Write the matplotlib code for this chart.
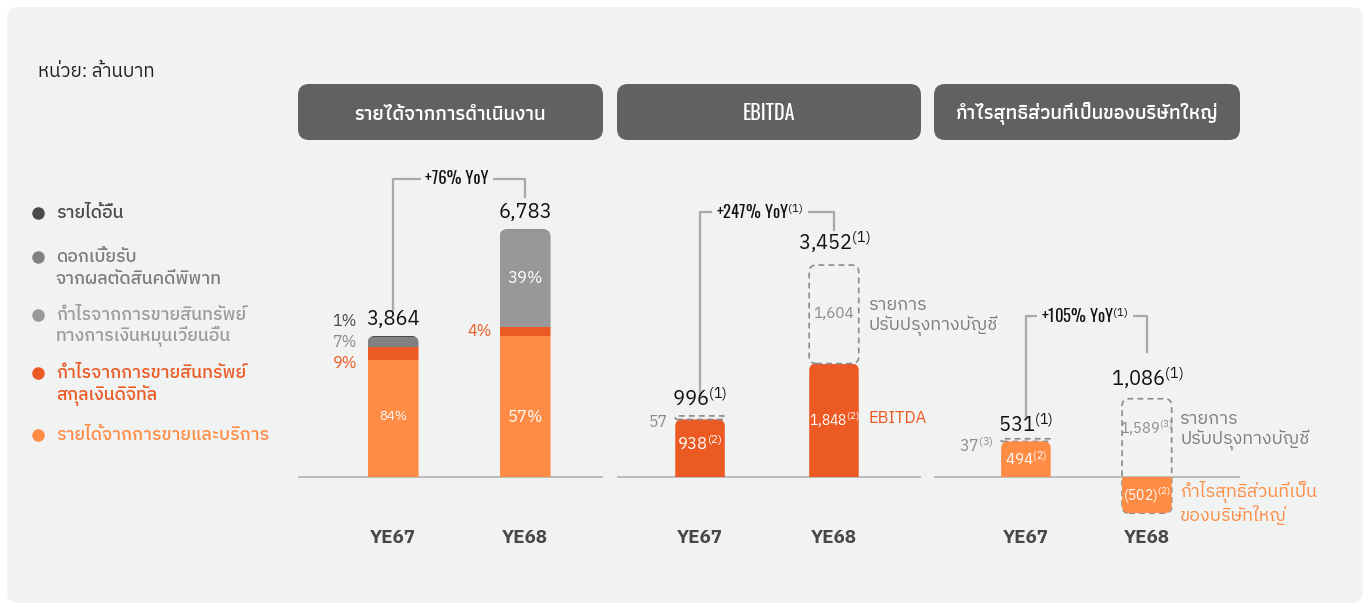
import matplotlib
matplotlib.use("Agg")
import matplotlib.pyplot as plt
from matplotlib.patches import FancyBboxPatch
from matplotlib.lines import Line2D
from matplotlib.transforms import IdentityTransform

BODY = ["IBM Plex Sans Thai", "DejaVu Sans"]
HEAD = ["Oswald", "Athiti", "IBM Plex Sans Thai", "DejaVu Sans"]
plt.rcParams["font.family"] = BODY
plt.rcParams["mathtext.fontset"] = "custom"
plt.rcParams["mathtext.rm"] = "IBM Plex Sans Thai"
plt.rcParams["mathtext.default"] = "rm"

years = ["YE67", "YE68"]

# revenue, THB m, with shares in %
revenue_total = [3864, 6783]
share_sales = [84, 57]
share_digital = [9, 4]
share_fin_assets = [0, 39]
share_interest = [7, 0]
share_other = [1, 0.4]

ebitda = [938, 1848]
ebitda_adj = [57, 1604]
ebitda_adjusted = [996, 3452]

net_profit = [494, -502]
net_profit_adj = [37, 1589]
net_profit_adjusted = [531, 1086]

yoy_labels = ["+76% YoY", "+247% YoY$^{(1)}$", "+105% YoY$^{(1)}$"]
panel_titles = ["รายได้จากการดำเนินงาน", "EBITDA", "กำไรสุทธิส่วนที่เป็นของบริษัทใหญ่"]
legend_labels = ["รายได้อื่น",
                 "ดอกเบี้ยรับ\nจากผลตัดสินคดีพิพาท",
                 "กำไรจากการขายสินทรัพย์\nทางการเงินหมุนเวียนอื่น",
                 "กำไรจากการขายสินทรัพย์\nสกุลเงินดิจิทัล",
                 "รายได้จากการขายและบริการ"]

ORANGE = "#ff8c45"
RED = "#ec5a24"
GRAY_MID = "#818181"
GRAY_LIGHT = "#98989a"
DARK = "#4a4a4a"
BG = "#f1f2f2"
LINE = "#a9a9a9"
DASH = "#8a8a8a"
TXT_GRAY = "#8a8a8a"

FIG_W, FIG_H = 1370, 607
fig = plt.figure(figsize=(FIG_W / 100, FIG_H / 100), dpi=100)
fig.patch.set_facecolor("white")
fig.add_artist(FancyBboxPatch((7, 4), 1356, 596, boxstyle="round,pad=0,rounding_size=12",
                              transform=IdentityTransform(), fc=BG, ec="none", zorder=-10))


def fx(px):
    return px / FIG_W


def fy(py):
    return 1 - py / FIG_H


def y_px(ax, py):
    return ax.transData.inverted().transform((0, FIG_H - py))[1]


def x_px(ax, px):
    return ax.transData.inverted().transform((px, 0))[0]


def units(ax):
    pos = ax.get_position()
    xl, yl = ax.get_xlim(), ax.get_ylim()
    ux = (xl[1] - xl[0]) / (pos.width * FIG_W)
    uy = (yl[1] - yl[0]) / (pos.height * FIG_H)
    return ux, uy


def round_clip(ax, patches, x, width, lo, hi, r_px=7):
    ux, uy = units(ax)
    ext = 2 * r_px * uy
    if lo >= 0:
        lo -= ext
    else:
        hi += ext
    clip = FancyBboxPatch((x - width / 2, lo), width, hi - lo,
                          boxstyle=f"round,pad=0,rounding_size={r_px * ux}",
                          mutation_aspect=uy / ux, transform=ax.transData)
    for p in patches:
        p.set_clip_path(clip)


def round_outline(ax, patch, r_px=7):
    ux, uy = units(ax)
    x, y = patch.get_xy()
    w, h = patch.get_width(), patch.get_height()
    r = min(r_px, h / uy / 2)
    fb = FancyBboxPatch((x, y), w, h, boxstyle=f"round,pad=0,rounding_size={r * ux}",
                        mutation_aspect=uy / ux, fill=False, ec=DASH, lw=1.2,
                        ls=(0, (3.5, 2.5)), zorder=patch.get_zorder())
    patch.set_visible(False)
    ax.add_patch(fb)


def bracket(ax, y0_px, top_px, y1_px, label, label_px):
    ys = [y_px(ax, y0_px), y_px(ax, top_px), y_px(ax, top_px), y_px(ax, y1_px)]
    ax.plot([0, 0, 1, 1], ys, color=LINE, lw=1.6, clip_on=False, zorder=2)
    ax.text(x_px(ax, label_px), ys[1], label, ha="center", va="center", fontsize=12,
            fontweight="bold", family=HEAD, color="#111111", zorder=3,
            bbox=dict(fc=BG, ec="none", pad=3))


# header boxes and panels
specs = [(298, 305, (-0.72, 1.59), (-1233, 8959)),
         (617, 304, (-0.62, 1.65), (-733, 5326)),
         (934, 306, (-0.76, 1.77), (-625, 4542))]
axes = []
for (left, width, xl, yl), title in zip(specs, panel_titles):
    fig.add_artist(FancyBboxPatch((left, FIG_H - 140), width, 56,
                                  boxstyle="round,pad=0,rounding_size=11",
                                  transform=IdentityTransform(), fc="#616161", ec="none"))
    fig.text(fx(left + width / 2), fy(113), title, ha="center", va="center",
             fontsize=14.5, fontweight="semibold", family=HEAD, color="white")
    ax = fig.add_axes([fx(left), fy(522), width / FIG_W, 372 / FIG_H])
    ax.set_xlim(xl)
    ax.set_ylim(yl)
    ax.set_facecolor("none")
    for s in ax.spines.values():
        s.set_visible(False)
    ax.set_yticks([])
    ax.set_xticks(range(len(years)), years, fontsize=13.5, fontweight="bold", color="#474747")
    ax.tick_params(axis="x", length=0, pad=5)
    ax.axhline(0, color="#b7b7b7", lw=1.3, zorder=1)
    axes.append(ax)

x = list(range(len(years)))

# ---- panel 1: revenue
ax = axes[0]
w = 0.386
stack = [(share_sales, ORANGE), (share_digital, RED), (share_fin_assets, GRAY_LIGHT),
         (share_interest, GRAY_MID), (share_other, DARK)]
sums = [sum(s[i] for s, _ in stack) for i in x]
bottom = [0, 0]
seg_bottoms = []
all_bars = []
for shares, color in stack:
    h = [revenue_total[i] * shares[i] / sums[i] for i in x]
    seg_bottoms.append(list(bottom))
    bars = ax.bar(x, h, w, bottom=bottom, color=color, lw=0, zorder=2)
    all_bars.append(bars)
    bottom = [bottom[i] + h[i] for i in x]
for i in x:
    round_clip(ax, [b[i] for b in all_bars], x[i], w, 0, revenue_total[i])
    ax.annotate(f"{revenue_total[i]:,}", (x[i], revenue_total[i]), xytext=(0, 12),
                textcoords="offset points", ha="center", va="center", fontsize=14.5,
                color="#111111")

ax.text(0, 1650, f"{share_sales[0]}%", ha="center", va="center", fontsize=9.5, color="white", zorder=3)
ax.text(1, 1650, f"{share_sales[1]}%", ha="center", va="center", fontsize=12, color="white", zorder=3)
mid39 = seg_bottoms[2][1] + revenue_total[1] * share_fin_assets[1] / sums[1] / 2
ax.text(1, mid39, f"{share_fin_assets[1]}%", ha="center", va="center", fontsize=12, color="white", zorder=3)
lx = x_px(ax, 357)
ax.text(lx, y_px(ax, 321), f"{share_other[0]}%", ha="right", va="center", fontsize=11.5, color=DARK)
ax.text(lx, y_px(ax, 342), f"{share_interest[0]}%", ha="right", va="center", fontsize=11.5, color=TXT_GRAY)
ax.text(lx, y_px(ax, 363), f"{share_digital[0]}%", ha="right", va="center", fontsize=11.5, color=RED)
ax.text(x_px(ax, 492), y_px(ax, 331), f"{share_digital[1]}%", ha="right", va="center", fontsize=11.5, color=RED)
bracket(ax, 310, 179, 197, yoy_labels[0], 457)

# ---- panel 2: EBITDA
ax = axes[1]
w = 0.37
bars = ax.bar(x, ebitda, w, color=RED, lw=0, zorder=2)
dashed = ax.bar(x, ebitda_adj, w, bottom=ebitda, fill=False, zorder=2)
for i in x:
    round_clip(ax, [bars[i]], x[i], w, 0, ebitda[i])
    round_outline(ax, dashed[i])
    ax.annotate(f"{ebitda_adjusted[i]:,}$^{{(1)}}$", (x[i], ebitda_adjusted[i]),
                xytext=(0, [12, 16][i]), textcoords="offset points", ha="center",
                va="center", fontsize=14.5, color="#111111")
ax.text(0, y_px(ax, 443), f"{ebitda[0]:,}$^{{(2)}}$", ha="center", va="center", fontsize=12, color="white", zorder=3)
ax.text(1, ebitda[1] / 2, f"{ebitda[1]:,}$^{{(2)}}$", ha="center", va="center", fontsize=10, color="white", zorder=3)
ax.text(1, ebitda[1] + ebitda_adj[1] / 2, f"{ebitda_adj[1]:,}", ha="center", va="center", fontsize=11, color=TXT_GRAY)
ax.text(x_px(ax, 668), y_px(ax, 422), f"{ebitda_adj[0]}", ha="right", va="center", fontsize=11.5, color=TXT_GRAY)
rx = x_px(ax, 869)
ax.text(rx, y_px(ax, 316), "รายการ\nปรับปรุงทางบัญชี", ha="left", va="center", fontsize=13,
        color="#7d7d7d", linespacing=1.1, clip_on=False)
ax.text(rx, y_px(ax, 418), "EBITDA", ha="left", va="center", fontsize=12, color=RED, clip_on=False)
bracket(ax, 395, 212, 230, yoy_labels[1], 760)

# ---- panel 3: net profit
ax = axes[2]
w = 0.41
dashed = ax.bar(x, net_profit_adj, w, bottom=net_profit, fill=False, zorder=2)
bars = ax.bar(x, net_profit, w, color=ORANGE, lw=0, zorder=3)
for i in x:
    round_clip(ax, [bars[i]], x[i], w, min(0, net_profit[i]), max(0, net_profit[i]))
    round_outline(ax, dashed[i])
    ax.annotate(f"{net_profit_adjusted[i]:,}$^{{(1)}}$", (x[i], net_profit_adjusted[i]),
                xytext=(0, [10, 14][i]), textcoords="offset points", ha="center",
                va="center", fontsize=14.5, color="#111111")
ax.text(0, net_profit[0] / 2, f"{net_profit[0]}$^{{(2)}}$", ha="center", va="center", fontsize=11, color="white", zorder=4)
ax.text(1, net_profit[1] / 2, f"({abs(net_profit[1])})$^{{(2)}}$", ha="center", va="center", fontsize=10, color="white", zorder=4)
ax.text(1, net_profit_adjusted[1] * 0.62, f"{net_profit_adj[1]:,}$^{{(3)}}$", ha="center", va="center", fontsize=10.5, color=TXT_GRAY)
ax.text(x_px(ax, 994), y_px(ax, 445), f"{net_profit_adj[0]}$^{{(3)}}$", ha="right", va="center", fontsize=11.5, color=TXT_GRAY)
rx = x_px(ax, 1180)
ax.text(rx, y_px(ax, 430), "รายการ\nปรับปรุงทางบัญชี", ha="left", va="center", fontsize=13,
        color="#7d7d7d", linespacing=1.1, clip_on=False)
ax.text(rx, y_px(ax, 503), "กำไรสุทธิส่วนที่เป็น\nของบริษัทใหญ่", ha="left", va="center", fontsize=13,
        color=ORANGE, linespacing=1.1, clip_on=False)
bracket(ax, 418, 316, 352, yoy_labels[2], 1085)

# ---- unit note and legend
fig.text(fx(38), fy(72), "หน่วย: ล้านบาท", ha="left", va="center", fontsize=13.5, color="#222222")
legend_colors = [DARK, GRAY_MID, GRAY_LIGHT, RED, ORANGE]
legend_text_colors = ["#4a4a4a", "#7d7d7d", "#9b9b9b", RED, ORANGE]
rows = [213, 257, 315, 373, 435]
for label, c, tc, ry in zip(legend_labels, legend_colors, legend_text_colors, rows):
    fig.add_artist(Line2D([fx(38)], [fy(ry)], marker="o", ms=8, color=c, lw=0,
                          transform=fig.transFigure))
    for k, line in enumerate(label.split("\n")):
        fig.text(fx(56), fy(ry + 22 * k), line, ha="left", va="center", fontsize=12.8,
                 fontweight="medium", color=tc)

fig.savefig("out.png", dpi=100, facecolor=fig.get_facecolor())
